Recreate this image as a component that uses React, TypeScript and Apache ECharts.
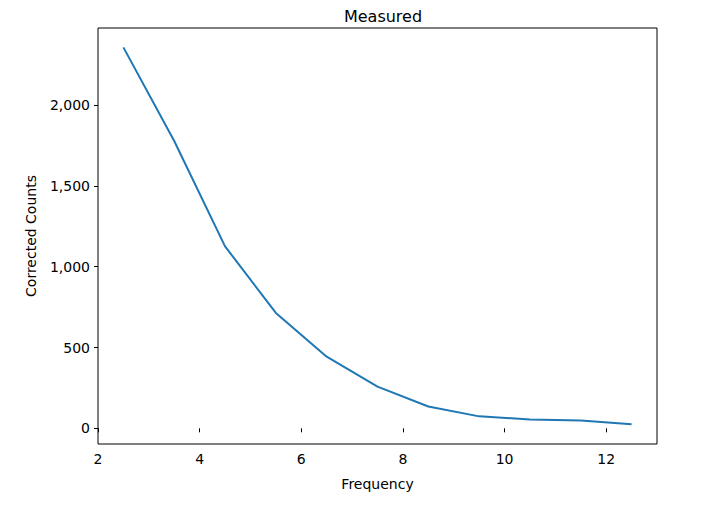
import { useEffect, useRef } from 'react'
import * as echarts from 'echarts'

// Values
const frequency = [2.5, 3.5, 4.5, 5.5, 6.5, 7.5, 8.5, 9.5, 10.5, 11.5, 12.5]
const correctedCounts = [2357, 1778, 1126, 714, 443, 258, 135, 74, 55, 49, 25]
const xTicks = [2, 4, 6, 8, 10, 12]
const yTicks = [0, 500, 1000, 1500, 2000]

const FONT = 'DejaVu Sans'

export default function App() {
  const ref = useRef<HTMLDivElement>(null)

  useEffect(() => {
    const el = ref.current
    if (!el) return
    const chart = echarts.init(el, undefined, { renderer: 'svg' })
    chart.setOption({
      animation: false,
      textStyle: { fontFamily: FONT },
      title: {
        text: 'Measured',
        left: 378,
        top: 3,
        textAlign: 'center',
        textStyle: { fontSize: 16, fontWeight: 'normal', color: '#000', fontFamily: FONT },
      },
      grid: {
        left: 98,
        right: 61,
        top: 28,
        bottom: 62,
        show: true,
        borderColor: '#000',
        borderWidth: 1,
        backgroundColor: '#fff',
      },
      xAxis: {
        type: 'value',
        min: 2,
        max: 13,
        name: 'Frequency',
        nameLocation: 'middle',
        nameGap: 33,
        nameTextStyle: { fontSize: 14, color: '#000', fontFamily: FONT },
        axisLine: { show: false },
        axisTick: { show: true, length: 4, inside: false, lineStyle: { color: '#000' }, customValues: xTicks },
        axisLabel: { fontSize: 14, color: '#000', margin: 8, customValues: xTicks },
        splitLine: { show: false },
      },
      yAxis: {
        type: 'value',
        min: -97,
        max: 2477,
        name: 'Corrected Counts',
        nameLocation: 'middle',
        nameGap: 60,
        nameTextStyle: { fontSize: 14, color: '#000', fontFamily: FONT },
        axisLine: { show: false },
        axisTick: { show: true, length: 4, inside: false, lineStyle: { color: '#000' }, customValues: yTicks },
        axisLabel: { fontSize: 14, color: '#000', margin: 8, customValues: yTicks },
        splitLine: { show: false },
      },
      series: [
        {
          type: 'line',
          data: frequency.map((f, i) => [f, correctedCounts[i]]),
          showSymbol: false,
          lineStyle: { color: '#1f77b4', width: 2 },
          itemStyle: { color: '#1f77b4' },
        },
      ],
    })
    return () => chart.dispose()
  }, [])

  return (
    <div
      ref={ref}
      style={{ position: 'absolute', left: 0, top: 0, width: 718, height: 506, background: '#fff' }}
    />
  )
}
